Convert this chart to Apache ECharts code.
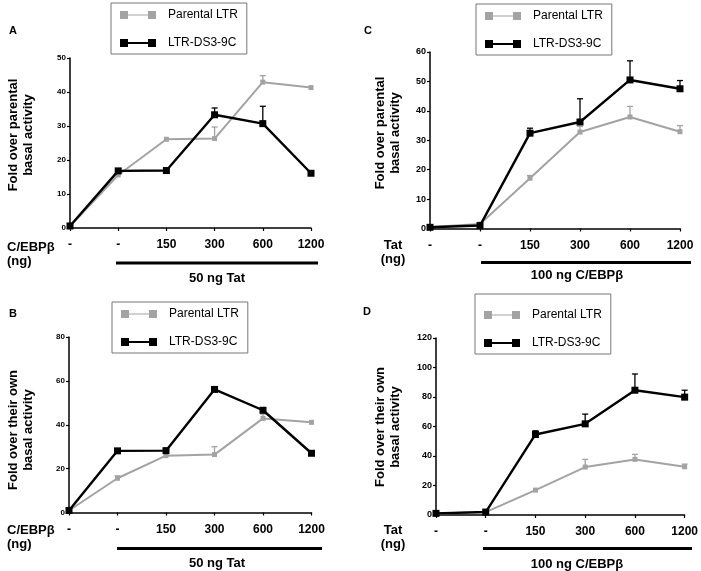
<!DOCTYPE html>
<html><head><meta charset="utf-8">
<script src="https://cdn.jsdelivr.net/npm/echarts@6/dist/echarts.min.js"></script>
<style>html,body{margin:0;padding:0;background:#fff}#c{width:701px;height:571px}</style>
</head><body><div id="c"></div>
<script>
// ---- data ----
const categories = ['-', '-', '150', '300', '600', '1200'];
const seriesNames = ['Parental LTR', 'LTR-DS3-9C'];

const A_parental = [0.5, 15.6, 26.1, 26.3, 42.9, 41.3];
const A_parentalUpper = [null, null, null, 29.7, 44.8, null];
const A_ds = [0.6, 16.8, 16.9, 33.3, 30.7, 16.1];
const A_dsUpper = [null, null, null, 35.3, 35.8, null];

const C_parental = [0.5, 1.5, 17.1, 32.8, 37.9, 32.9];
const C_parentalUpper = [null, null, 18.0, 34.7, 41.5, 35.0];
const C_ds = [0.4, 1.0, 32.4, 36.2, 50.5, 47.5];
const C_dsUpper = [null, null, 34.1, 44.1, 57.0, 50.3];

const B_parental = [0.9, 15.6, 25.9, 26.4, 42.9, 41.1];
const B_parentalUpper = [null, 16.7, null, 30.0, 44.9, null];
const B_ds = [0.9, 28.1, 28.2, 56.1, 46.6, 27.0];
const B_dsUpper = [null, null, null, null, null, null];

const D_parental = [1.0, 2.0, 16.9, 32.5, 37.7, 32.7];
const D_parentalUpper = [null, null, null, 37.7, 41.1, 34.5];
const D_ds = [1.1, 2.0, 54.6, 61.8, 84.6, 79.9];
const D_dsUpper = [null, null, 57.1, 68.4, 95.6, 84.6];

const yMaxA = 50, yMaxC = 60, yMaxB = 80, yMaxD = 120;
const yIntA = 10, yIntC = 10, yIntB = 20, yIntD = 20;

// ---- styling ----
const FONT = '"Liberation Sans", Arial, sans-serif';
const GRAY = '#a3a3a3';
const BLACK = '#000';

const panels = [
  {grid:{left:70, top:58, width:241, height:170}, max:yMaxA, interval:yIntA, tick:8,
   par:A_parental, parU:A_parentalUpper, ds:A_ds, dsU:A_dsUpper,
   legend:{left:111, top:3, padding:[6,9,5,9]}},
  {grid:{left:430, top:52, width:250, height:176.5}, max:yMaxC, interval:yIntC, tick:9,
   par:C_parental, parU:C_parentalUpper, ds:C_ds, dsU:C_dsUpper,
   legend:{left:476, top:4, padding:[6,9,5,9]}},
  {grid:{left:69, top:337, width:242.5, height:175.5}, max:yMaxB, interval:yIntB, tick:8,
   par:B_parental, parU:B_parentalUpper, ds:B_ds, dsU:B_dsUpper,
   legend:{left:112, top:302, padding:[6,9,5,9]}},
  {grid:{left:436, top:338, width:250, height:177}, max:yMaxD, interval:yIntD, tick:9,
   par:D_parental, parU:D_parentalUpper, ds:D_ds, dsU:D_dsUpper,
   legend:{left:475, top:294, padding:[15,9,5,9]}}
];

const iconGray = 'path://M0,0h8v8h-8z M8,3.4h20v1.2h-20z M28,0h8v8h-8z';
const iconBlack = 'path://M0,0h8v8h-8z M8,3h20v2h-20z M28,0h8v8h-8z';

function errSeries(i, values, upper, color) {
  const data = [];
  upper.forEach((u, k) => { if (u != null) data.push([k, values[k], u]); });
  return {
    type:'custom', xAxisIndex:i, yAxisIndex:i, data:data, silent:true, z:1,
    renderItem:function(params, api){
      const p0 = api.coord([api.value(0), api.value(1)]);
      const p1 = api.coord([api.value(0), api.value(2)]);
      return {type:'group', children:[
        {type:'line', shape:{x1:p0[0], y1:p0[1], x2:p1[0], y2:p1[1]}, style:{stroke:color, lineWidth:1.3}},
        {type:'line', shape:{x1:p1[0]-3, y1:p1[1], x2:p1[0]+3, y2:p1[1]}, style:{stroke:color, lineWidth:1.3}}
      ]};
    }
  };
}

const grid = [], xAxis = [], yAxis = [], series = [], legend = [];
panels.forEach((p, i) => {
  grid.push(p.grid);
  xAxis.push({type:'category', gridIndex:i, data:categories, boundaryGap:false,
    axisLine:{lineStyle:{color:'#000', width:1.5}},
    axisTick:{show:true, length:3, lineStyle:{color:'#000', width:1.2}},
    axisLabel:{color:'#000', fontFamily:FONT, fontWeight:'bold', fontSize:12, margin:11},
    splitLine:{show:false}});
  yAxis.push({type:'value', gridIndex:i, min:0, max:p.max, interval:p.interval,
    axisLine:{show:true, lineStyle:{color:'#000', width:1.5}},
    axisTick:{show:true, length:3, lineStyle:{color:'#000', width:1.2}},
    axisLabel:{color:'#000', fontFamily:FONT, fontWeight:'bold', fontSize:p.tick, margin:4},
    splitLine:{show:false}});
  series.push(errSeries(i, p.par, p.parU, GRAY));
  series.push({type:'line', name:seriesNames[0], xAxisIndex:i, yAxisIndex:i, data:p.par,
    symbol:'rect', symbolSize:5, color:GRAY, lineStyle:{color:GRAY, width:2},
    itemStyle:{color:GRAY}, z:2, animation:false});
  series.push(errSeries(i, p.ds, p.dsU, BLACK));
  series.push({type:'line', name:seriesNames[1], xAxisIndex:i, yAxisIndex:i, data:p.ds,
    symbol:'rect', symbolSize:7, color:BLACK, lineStyle:{color:BLACK, width:2.4},
    itemStyle:{color:BLACK}, z:3, animation:false});
  legend.push({left:p.legend.left, top:p.legend.top, padding:p.legend.padding,
    orient:'vertical', itemGap:16, itemWidth:36, itemHeight:8, selectedMode:false,
    borderColor:'#777', borderWidth:1,
    textStyle:{color:'#000', fontFamily:FONT, fontSize:12, padding:[0,0,0,7]},
    data:[{name:seriesNames[0], icon:iconGray}, {name:seriesNames[1], icon:iconBlack}]});
});

function txt(x, y, s, opts) {
  return Object.assign({type:'text', x:x, y:y, style:Object.assign({text:s, fill:'#000',
    font:'bold 13px ' + FONT, textAlign:'left', textVerticalAlign:'middle'}, opts || {})});
}
function yName(cx, cy, l1, l2) {
  return {type:'text', x:cx, y:cy, rotation:Math.PI/2,
    style:{text:l1 + '\n' + l2, fill:'#000', font:'bold 13px ' + FONT, lineHeight:15,
      textAlign:'center', textVerticalAlign:'middle'}};
}
function bar(x1, x2, y) { return {type:'rect', shape:{x:x1, y:y-1.5, width:x2-x1, height:3}, style:{fill:'#000'}}; }

const graphic = [
  txt(9, 31, 'A', {font:'bold 11px ' + FONT}),
  txt(364, 31, 'C', {font:'bold 11px ' + FONT}),
  txt(9, 314, 'B', {font:'bold 11px ' + FONT}),
  txt(363, 312, 'D', {font:'bold 11px ' + FONT}),
  yName(21, 135, 'Fold over parental', 'basal activity'),
  yName(388, 133, 'Fold over parental', 'basal activity'),
  yName(21, 430, 'Fold over their own', 'basal activity'),
  yName(388, 427, 'Fold over their own', 'basal activity'),
  txt(7, 247, 'C/EBPβ'), txt(7, 261, '(ng)'),
  txt(7, 530, 'C/EBPβ'), txt(7, 544, '(ng)'),
  txt(393, 245, 'Tat', {textAlign:'center'}), txt(393, 259, '(ng)', {textAlign:'center'}),
  txt(393, 530, 'Tat', {textAlign:'center'}), txt(393, 544, '(ng)', {textAlign:'center'}),
  bar(116, 318, 263), bar(481, 691, 262.5), bar(117, 322, 548.5), bar(483, 692, 548.5),
  txt(217, 278, '50 ng Tat', {textAlign:'center'}),
  txt(577, 275, '100 ng C/EBPβ', {textAlign:'center'}),
  txt(217, 563, '50 ng Tat', {textAlign:'center'}),
  txt(577, 564, '100 ng C/EBPβ', {textAlign:'center'})
];

const chart = echarts.init(document.getElementById('c'), null, {renderer:'canvas'});
chart.setOption({animation:false, grid, xAxis, yAxis, series, legend, graphic});
</script></body></html>
